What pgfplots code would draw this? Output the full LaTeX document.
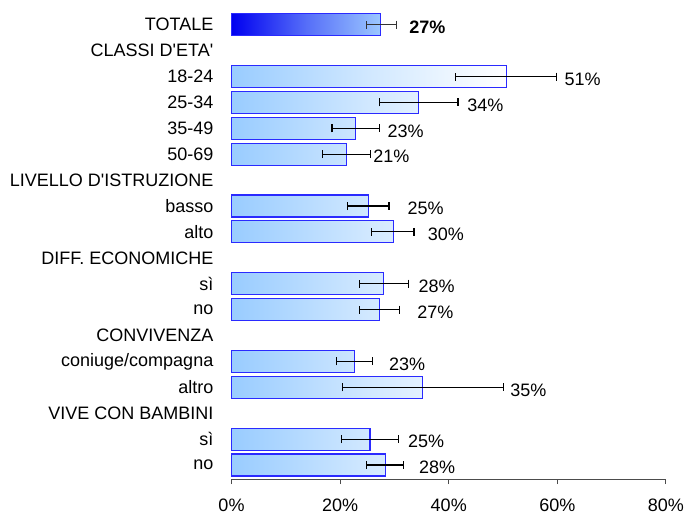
\documentclass[border=0pt]{standalone}
\usepackage{fontspec}
\newfontfamily\lsans{Liberation Sans}
\usepackage{pgfplots}
\pgfplotsset{compat=1.18}
\definecolor{barlight}{HTML}{99CCFF}
\definecolor{bardraw}{HTML}{2A2AFF}
\definecolor{totdark}{HTML}{0000F0}
\definecolor{totlight}{HTML}{9CC8FF}
\pgfplotstableread{
r v em ep lx lab
15 50.6 9.3 9.3 61.3 51
14 34.5 7.3 7.2 43.4 34
13 22.8 4.3 4.4 28.7 23
12 21.1 4.4 4.5 26.1 21
10 25.3 4.0 3.7 32.4 25
9 29.8 4.0 3.8 36.1 30
7 28.0 4.4 4.6 34.4 28
6 27.2 3.6 3.7 34.2 27
4 22.6 3.3 3.3 29.0 23
3 35.1 14.6 14.9 51.3 35
1 25.5 5.3 5.3 32.5 25
0 28.4 3.5 3.2 34.5 28
}\groups
\pgfplotstableread{
r v em ep lx lab
17 27.5 2.7 2.8 32.7 27
}\total
\begin{document}
\lsans\fontsize{18bp}{21bp}\selectfont
\begin{tikzpicture}
\useasboundingbox (0,0) rectangle (685bp,514bp);
\begin{axis}[
  at={(231.5bp,35bp)}, anchor=south west,
  scale only axis, width=434.5bp, height=467.2bp,
  xmin=0, xmax=80, ymin=-0.54, ymax=17.5,
  clip=false,
  axis x line*=bottom, axis y line*=left,
  y axis line style={draw=none},
  x axis line style={black!70, line width=1pt},
  xtick={0,20,40,60,80}, xticklabels={0\%,20\%,40\%,60\%,80\%},
  xtick align=outside, major tick length=5bp,
  xtick style={black!70, line width=1pt},
  xticklabel style={anchor=north, inner sep=0pt, yshift=-15bp},
  ytick={0,...,17},
  yticklabels={no, sì, VIVE CON BAMBINI, altro, coniuge/compagna, CONVIVENZA, no, sì, DIFF. ECONOMICHE, alto, basso, LIVELLO D'ISTRUZIONE, 50-69, 35-49, 25-34, 18-24, CLASSI D'ETA', TOTALE},
  ytick style={draw=none},
  yticklabel style={anchor=east, inner sep=0pt, xshift=-18bp},
]
% group bars
\addplot[xbar, bar shift=0pt, bar width=22bp, draw=bardraw, line width=1.1pt,
  left color=barlight, right color=white, middle color=barlight!45!white]
  table[x=v, y=r] {\groups};
% total bar
\addplot[xbar, bar shift=0pt, bar width=22bp, draw=bardraw, line width=1.1pt,
  left color=totdark, right color=totlight, middle color=totdark!45!totlight]
  table[x=v, y=r] {\total};
% error bars
\addplot[draw=none, mark=none, forget plot,
  error bars/.cd, x dir=both, x explicit, error mark=|,
  error bar style={black, line width=1.1pt},
  error mark options={black, line width=1.1pt, mark size=4bp}]
  table[x=v, y=r, x error plus=ep, x error minus=em] {\groups};
\addplot[draw=none, mark=none, forget plot,
  error bars/.cd, x dir=both, x explicit, error mark=|,
  error bar style={black!80, line width=1.1pt},
  error mark options={black!80, line width=1.1pt, mark size=4bp}]
  table[x=v, y=r, x error plus=ep, x error minus=em] {\total};
% value labels
\addplot[draw=none, mark=none, point meta=explicit symbolic,
  nodes near coords={\pgfplotspointmeta\%},
  every node near coord/.append style={anchor=west, inner sep=0pt, yshift=-2.5bp, text=black}]
  table[x=lx, y=r, meta=lab] {\groups};
\addplot[draw=none, mark=none, point meta=explicit symbolic,
  nodes near coords={\textbf{\pgfplotspointmeta\%}},
  every node near coord/.append style={anchor=west, inner sep=0pt, yshift=-2.5bp, text=black}]
  table[x=lx, y=r, meta=lab] {\total};
\end{axis}
\end{tikzpicture}
\end{document}
